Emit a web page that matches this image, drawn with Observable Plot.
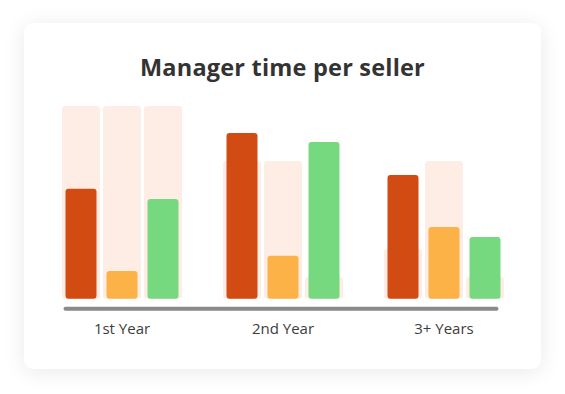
<!DOCTYPE html>
<html>
<head>
<meta charset="utf-8">
<script src="https://cdn.jsdelivr.net/npm/d3@7"></script>
<script src="https://cdn.jsdelivr.net/npm/@observablehq/plot@0.6"></script>
<style>
  html, body { margin: 0; padding: 0; background: #ffffff; width: 565px; height: 394px; overflow: hidden; }
  #card { position: absolute; left: 24px; top: 23px; width: 517px; height: 346px; background: #fff;
          border-radius: 9px; box-shadow: 0 3px 22px rgba(0,0,0,0.09); }
  #title { position: absolute; left: 0; top: 51px; width: 565px; text-align: center; margin: 0;
           font-family: "Open Sans", sans-serif; font-weight: 700; font-size: 23.5px; color: #333; letter-spacing: 0.2px; }
  #chart { position: absolute; left: 0; top: 0; }
  #chart svg { background: transparent !important; }
</style>
</head>
<body>
<div id="card"></div>
<h2 id="title">Manager time per seller</h2>
<div id="chart"></div>
<script>
const years = ["1st Year", "2nd Year", "3+ Years"];
const series = ["Series A", "Series B", "Series C"];
const seriesColors = ["#D24B12", "#FCB247", "#76D97F"];
const backgroundColor = "#FEEDE5";
// foreground values per series (one entry per year)
const seriesA = [57, 86, 64.2];
const seriesB = [14.4, 22.3, 37.2];
const seriesC = [51.7, 81.3, 32];
// light background bars per series (one entry per year)
const backA = [100, 71.5, 25.8];
const backB = [100, 71.5, 71.5];
const backC = [100, 11.3, 11.3];

const values = [seriesA, seriesB, seriesC];
const backs = [backA, backB, backC];
const data = years.flatMap((year, i) =>
  series.map((s, j) => ({year, series: s, value: values[j][i], back: backs[j][i]})));

const chart = Plot.plot({
  width: 565,
  height: 394,
  marginLeft: 60.5,
  marginRight: 59.5,
  marginTop: 106,
  marginBottom: 95.3,
  style: {background: "transparent", fontFamily: "Open Sans, sans-serif", fontSize: "15px", color: "#3d3d3d"},
  fx: {domain: years, paddingInner: 38 / 161, paddingOuter: 0, label: null, axis: null},
  x: {domain: series, axis: null, padding: 0},
  y: {domain: [0, 100], axis: null},
  color: {domain: series, range: seriesColors},
  marks: [
    Plot.barY(data, {fx: "year", x: "series", y: "back", fill: backgroundColor, insetLeft: 1.5, insetRight: 1.5, rx: 3}),
    Plot.barY(data, {fx: "year", x: "series", y: "value", fill: "series", insetLeft: 5, insetRight: 5, rx: 3}),
    // baseline drawn once, starting in the first facet and spanning all groups
    Plot.ruleY([{year: years[0]}], {fx: "year", y: () => 0, dy: 9.5, stroke: "#8A8A8A", strokeWidth: 4,
      strokeLinecap: "round", insetLeft: 5.5, insetRight: -313.5}),
    Plot.axisFx({anchor: "bottom", tickSize: 0, tickPadding: 24, fontSize: 15, fill: "#3d3d3d", label: null})
  ]
});
document.getElementById("chart").appendChild(chart);
</script>
</body>
</html>
